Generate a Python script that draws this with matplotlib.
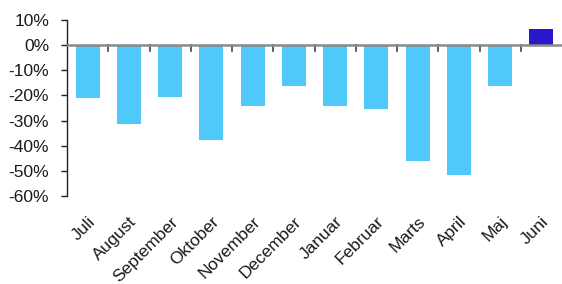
import matplotlib
matplotlib.use("Agg")
import matplotlib.pyplot as plt
import numpy as np

months = ["Juli", "August", "September", "Oktober", "November", "December",
          "Januar", "Februar", "Marts", "April", "Maj", "Juni"]
values = [-21.1, -31.4, -20.7, -37.7, -24.3, -16.4,
          -24.3, -25.5, -46.0, -51.5, -16.4, 6.4]
yticks = [10, 0, -10, -20, -30, -40, -50, -60]

plt.rcParams['font.family'] = ['Liberation Sans', 'DejaVu Sans']

fig = plt.figure(figsize=(5.62, 2.84), dpi=100)
ax = fig.add_axes([67/562, 88/284, 495/562, 176/284])

x = np.arange(len(months))
colors = ["#4FC9FA"] * (len(months) - 1) + ["#2A17CC"]
ax.bar(x, values, width=0.58, color=colors, zorder=2)

ax.set_xlim(-0.5, len(months) - 0.5)
ax.set_ylim(-60, 10)
ax.set_yticks(yticks)
ax.set_yticklabels([f"{v}%" for v in yticks], fontsize=12.5, color="#1a1a1a")

ax.axhline(0, color="#8a8a8a", lw=1.8, zorder=3)

for s in ["top", "right", "bottom"]:
    ax.spines[s].set_visible(False)
ax.spines["left"].set_color("#222222")
ax.spines["left"].set_linewidth(1.0)
ax.tick_params(axis="y", length=4.3, width=1, color="#222222", pad=8.5)

ax.set_xticks(x)
ax.set_xticklabels(months, rotation=45, ha="right", rotation_mode="anchor",
                   fontsize=12.5, color="#1a1a1a")
ax.tick_params(axis="x", length=0, pad=13)

# boundary ticks on the zero line
for b in np.arange(0.5, len(months) - 1, 1.0):
    ax.plot([b, b], [0, -2.4], color="#444444", lw=1.2, zorder=1)

fig.savefig("out.png", dpi=100)
